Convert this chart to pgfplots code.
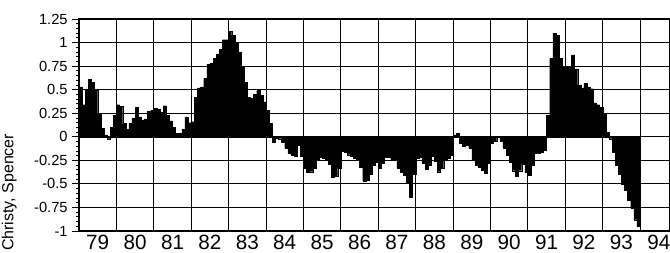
\documentclass[border=0pt]{standalone}
\usepackage{fontspec}
\setmainfont{Liberation Sans}
\usepackage{pgfplots}
\pgfplotsset{compat=1.18}
\begin{document}
\begin{tikzpicture}[x=1pt,y=1pt]
\path[use as bounding box] (0,0) rectangle (502.5,189.75);
\clip (0,0) rectangle (502.5,189.75);
\begin{axis}[
  at={(59.25pt,16.5pt)}, anchor=south west,
  scale only axis, width=443.25pt, height=159pt,
  xmin=0, xmax=189.6, ymin=-1, ymax=1.25,
  xtick={6,18,30,42,54,66,78,90,102,114,126,138,150,162,174,186},
  xticklabels={79,80,81,82,83,84,85,86,87,88,89,90,91,92,93,94},
  minor xtick={0,12,24,36,48,60,72,84,96,108,120,132,144,156,168,180},
  xmajorgrids=false, xminorgrids=true,
  ytick={-1,-0.75,-0.5,-0.25,0,0.25,0.5,0.75,1,1.25},
  yticklabels={-1,-0.75,-0.5,-0.25,0,0.25,0.5,0.75,1,1.25},
  ymajorgrids=true,
  minor y tick num=4,
  tick align=outside,
  major tick length=5pt, minor tick length=2pt,
  x tick style={draw=none},
  y tick style={black, line width=0.6pt},
  grid style={black, line width=0.75pt},
  minor grid style={black, line width=0.75pt},
  axis line style={black, line width=0.9pt},
  xticklabel style={font=\fontsize{15.5}{15.5}\selectfont, yshift=5.5pt},
  yticklabel style={font=\fontsize{11}{11}\selectfont},
  /pgf/number format/assume math mode=true,
]
\addplot[const plot mark left, fill=black, draw=black, line width=0.2pt] coordinates {
(0,0.53)(1,0.34)(2,0.49)(3,0.61)(4,0.58)(5,0.49)(6,0.25)(7,0.09)(8,0.02)(9,-0.02)(10,0.10)(11,0.23)
(12,0.34)(13,0.32)(14,0.14)(15,0.08)(16,0.14)(17,0.20)(18,0.31)(19,0.21)(20,0.18)(21,0.19)(22,0.27)(23,0.28)
(24,0.30)(25,0.29)(26,0.26)(27,0.33)(28,0.23)(29,0.17)(30,0.10)(31,0.04)(32,0.04)(33,0.08)(34,0.21)(35,0.15)
(36,0.16)(37,0.42)(38,0.52)(39,0.53)(40,0.62)(41,0.77)(42,0.78)(43,0.83)(44,0.88)(45,0.93)(46,1.03)(47,1.03)
(48,1.12)(49,1.08)(50,1.00)(51,0.90)(52,0.74)(53,0.58)(54,0.42)(55,0.41)(56,0.45)(57,0.49)(58,0.44)(59,0.37)
(60,0.28)(61,0.14)(62,-0.06)(63,-0.01)(64,-0.02)(65,-0.06)(66,-0.12)(67,-0.17)(68,-0.20)(69,-0.21)(70,-0.09)(71,-0.21)
(72,-0.33)(73,-0.38)(74,-0.37)(75,-0.33)(76,-0.25)(77,-0.22)(78,-0.23)(79,-0.25)(80,-0.29)(81,-0.43)(82,-0.42)(83,-0.33)
(84,-0.15)(85,-0.16)(86,-0.19)(87,-0.21)(88,-0.23)(89,-0.25)(90,-0.32)(91,-0.47)(92,-0.46)(93,-0.40)(94,-0.30)(95,-0.27)
(96,-0.33)(97,-0.28)(98,-0.22)(99,-0.22)(100,-0.24)(101,-0.25)(102,-0.33)(103,-0.38)(104,-0.41)(105,-0.49)(106,-0.64)(107,-0.40)
(108,-0.23)(109,-0.22)(110,-0.28)(111,-0.34)(112,-0.30)(113,-0.21)(114,-0.26)(115,-0.37)(116,-0.33)(117,-0.25)(118,-0.23)(119,-0.20)
(120,0.02)(121,0.04)(122,-0.07)(123,-0.10)(124,-0.09)(125,-0.12)(126,-0.25)(127,-0.30)(128,-0.32)(129,-0.35)(130,-0.39)(131,-0.28)
(132,-0.07)(133,-0.05)(134,0.00)(135,-0.05)(136,-0.12)(137,-0.20)(138,-0.27)(139,-0.36)(140,-0.42)(141,-0.36)(142,-0.29)(143,-0.38)
(144,-0.41)(145,-0.30)(146,-0.17)(147,-0.17)(148,-0.16)(149,-0.14)(150,0.23)(151,0.83)(152,1.10)(153,1.08)(154,0.83)(155,0.74)
(156,0.74)(157,0.74)(158,0.87)(159,0.72)(160,0.55)(161,0.52)(162,0.57)(163,0.53)(164,0.51)(165,0.36)(166,0.34)(167,0.31)
(168,0.25)(169,0.05)(170,-0.02)(171,-0.16)(172,-0.30)(173,-0.40)(174,-0.50)(175,-0.57)(176,-0.67)(177,-0.76)(178,-0.88)(179,-0.95)
(180,-0.95)
} \closedcycle;
\end{axis}
\node[rotate=90, anchor=base, font=\fontsize{12}{12}\selectfont] at (10,45.5) {Christy, Spencer};
\end{tikzpicture}
\end{document}
